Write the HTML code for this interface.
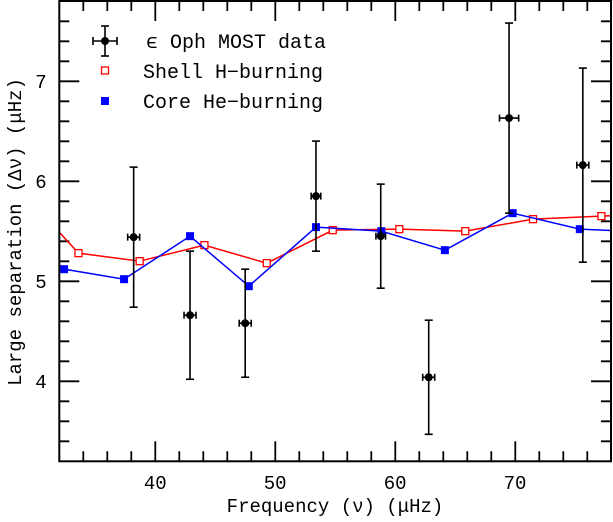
<!DOCTYPE html>
<html><head><meta charset="utf-8"><style>
html,body{margin:0;padding:0;background:#fff;}
svg{display:block;}
text{font-family:"Liberation Mono","DejaVu Sans Mono",monospace;fill:#000;}
</style></head><body>
<svg id="chart" width="613" height="522" viewBox="0 0 613 522" xmlns="http://www.w3.org/2000/svg">
<g fill="#000" stroke="none">
<path d="M82.4 451.3h1.8v10h-1.8zM106.4 451.3h1.8v10h-1.8zM130.4 451.3h1.8v10h-1.8zM178.4 451.3h1.8v10h-1.8zM202.4 451.3h1.8v10h-1.8zM226.4 451.3h1.8v10h-1.8zM250.4 451.3h1.8v10h-1.8zM298.4 451.3h1.8v10h-1.8zM322.4 451.3h1.8v10h-1.8zM346.4 451.3h1.8v10h-1.8zM370.4 451.3h1.8v10h-1.8zM418.4 451.3h1.8v10h-1.8zM442.4 451.3h1.8v10h-1.8zM466.4 451.3h1.8v10h-1.8zM490.4 451.3h1.8v10h-1.8zM538.4 451.3h1.8v10h-1.8zM562.4 451.3h1.8v10h-1.8zM586.4 451.3h1.8v10h-1.8zM154.4 441.3h1.8v20h-1.8zM274.4 441.3h1.8v20h-1.8zM394.4 441.3h1.8v20h-1.8zM514.4 441.3h1.8v20h-1.8z"/>
<path d="M82.4 1h1.8v10h-1.8zM106.4 1h1.8v10h-1.8zM130.4 1h1.8v10h-1.8zM178.4 1h1.8v10h-1.8zM202.4 1h1.8v10h-1.8zM226.4 1h1.8v10h-1.8zM250.4 1h1.8v10h-1.8zM298.4 1h1.8v10h-1.8zM322.4 1h1.8v10h-1.8zM346.4 1h1.8v10h-1.8zM370.4 1h1.8v10h-1.8zM418.4 1h1.8v10h-1.8zM442.4 1h1.8v10h-1.8zM466.4 1h1.8v10h-1.8zM490.4 1h1.8v10h-1.8zM538.4 1h1.8v10h-1.8zM562.4 1h1.8v10h-1.8zM586.4 1h1.8v10h-1.8zM154.4 1h1.8v20h-1.8zM274.4 1h1.8v20h-1.8zM394.4 1h1.8v20h-1.8zM514.4 1h1.8v20h-1.8z"/>
</g>
<g stroke="#000" stroke-width="1.8" fill="none">
<path d="M59.3 441.3h10M59.3 421.3h10M59.3 401.3h10M59.3 361.3h10M59.3 341.3h10M59.3 321.3h10M59.3 301.3h10M59.3 261.3h10M59.3 241.3h10M59.3 221.3h10M59.3 201.3h10M59.3 161.3h10M59.3 141.3h10M59.3 121.3h10M59.3 101.3h10M59.3 61.3h10M59.3 41.3h10M59.3 21.3h10M59.3 381.3h20M59.3 281.3h20M59.3 181.3h20M59.3 81.3h20"/>
<path d="M611 441.3h-10M611 421.3h-10M611 401.3h-10M611 361.3h-10M611 341.3h-10M611 321.3h-10M611 301.3h-10M611 261.3h-10M611 241.3h-10M611 221.3h-10M611 201.3h-10M611 161.3h-10M611 141.3h-10M611 121.3h-10M611 101.3h-10M611 61.3h-10M611 41.3h-10M611 21.3h-10M611 381.3h-20M611 281.3h-20M611 181.3h-20M611 81.3h-20"/>
</g>
</svg>
<script>
const xTicks = [40, 50, 60, 70];
const yTicks = [4, 5, 6, 7];
const obsX = [38.2, 42.9, 47.5, 53.4, 58.8, 62.8, 69.5, 75.65];
const obsY = [5.44, 4.66, 4.58, 5.85, 5.45, 4.04, 6.63, 6.16];
const obsErrY = [0.70, 0.64, 0.54, 0.55, 0.52, 0.57, 0.95, 0.97];
const obsErrX = [0.5, 0.5, 0.5, 0.4, 0.4, 0.5, 0.8, 0.5];
const shellX = [31, 33.6, 38.7, 44.1, 49.3, 54.8, 60.35, 65.85, 71.5, 77.2, 79];
const shellY = [5.62, 5.28, 5.20, 5.36, 5.18, 5.51, 5.52, 5.50, 5.62, 5.65, 5.66];
const coreX = [31, 32.4, 37.4, 42.9, 47.8, 53.4, 58.85, 64.15, 69.8, 75.4, 81];
const coreY = [5.27, 5.12, 5.02, 5.45, 4.95, 5.54, 5.50, 5.31, 5.68, 5.52, 5.49];

const L=59.3,R=611,T=1,B=461.3,xmin=32,xmax=78,ymin=3.2,ymax=7.8;
const sx=v=>L+(v-xmin)/(xmax-xmin)*(R-L);
const sy=v=>B-(v-ymin)/(ymax-ymin)*(B-T);
const NS="http://www.w3.org/2000/svg";
const svg=document.getElementById('chart');
function mk(tag,attrs,parent){const e=document.createElementNS(NS,tag);for(const k in attrs)e.setAttribute(k,attrs[k]);(parent||svg).appendChild(e);return e;}

const defs=mk('defs',{});
const cp=mk('clipPath',{id:'clip'},defs);
mk('rect',{x:L,y:T,width:R-L,height:B-T},cp);

const gS=mk('g',{'clip-path':'url(#clip)'});


mk('polyline',{points:shellX.map((x,i)=>sx(x)+','+sy(shellY[i])).join(' '),fill:'none',stroke:'#f00','stroke-width':1.5},gS);
shellX.forEach((x,i)=>{const r=mk('rect',{x:sx(x)-3.5,y:sy(shellY[i])-3.5,width:7,height:7,fill:'#fff',stroke:'#f00','stroke-width':1.3},gS);

});

const gC=mk('g',{'clip-path':'url(#clip)'});


mk('polyline',{points:coreX.map((x,i)=>sx(x)+','+sy(coreY[i])).join(' '),fill:'none',stroke:'#00f','stroke-width':1.5},gC);
coreX.forEach((x,i)=>{const r=mk('rect',{x:sx(x)-4,y:sy(coreY[i])-4,width:8,height:8,fill:'#00f'},gC);

});

const gO=mk('g',{'clip-path':'url(#clip)',stroke:'#000','stroke-width':1.6});


obsX.forEach((x,i)=>{
 const px=sx(x),py=sy(obsY[i]),t=sy(obsY[i]+obsErrY[i]),b=sy(obsY[i]-obsErrY[i]);
 const l=sx(x-obsErrX[i]),r=sx(x+obsErrX[i]);
 const g=mk('g',{},gO);
 
 
 mk('line',{x1:px,y1:t,x2:px,y2:b},g);
 mk('line',{x1:px-4,y1:t,x2:px+4,y2:t},g);
 mk('line',{x1:px-4,y1:b,x2:px+4,y2:b},g);
 mk('line',{x1:l,y1:py,x2:r,y2:py},g);
 mk('line',{x1:l,y1:py-3.5,x2:l,y2:py+3.5},g);
 mk('line',{x1:r,y1:py-3.5,x2:r,y2:py+3.5},g);
 mk('circle',{cx:px,cy:py,r:4,fill:'#000',stroke:'none'},g);
});

const frame=mk('rect',{x:L,y:T,width:R-L,height:B-T,fill:'none',stroke:'#000','stroke-width':2});


xTicks.forEach(v=>{const t=mk('text',{x:sx(v),y:489,'text-anchor':'middle','font-size':19});t.textContent=v;
 
 });
yTicks.forEach(v=>{const t=mk('text',{x:41,y:sy(v)+7,'text-anchor':'middle','font-size':19});t.textContent=v;
 
 });
</script>
<script>
(function(){
const svg=document.getElementById('chart');const NS="http://www.w3.org/2000/svg";
function mk(tag,attrs,parent){const e=document.createElementNS(NS,tag);for(const k in attrs)e.setAttribute(k,attrs[k]);(parent||svg).appendChild(e);return e;}
const xt=mk('text',{x:335,y:512,'text-anchor':'middle','font-size':19});
xt.textContent='Frequency (ν) (μHz)';


const yt=mk('text',{x:0,y:0,'text-anchor':'middle','font-size':19,transform:'translate(21,232) rotate(-90)'});
yt.textContent='Large separation (Δν) (μHz)';


const lg=mk('g',{});


const e1=mk('g',{stroke:'#000','stroke-width':1.6},lg);


mk('line',{x1:105,y1:26,x2:105,y2:56},e1);mk('line',{x1:101,y1:26,x2:109,y2:26},e1);mk('line',{x1:101,y1:56,x2:109,y2:56},e1);
mk('line',{x1:93,y1:41,x2:117,y2:41},e1);mk('line',{x1:93,y1:37,x2:93,y2:45},e1);mk('line',{x1:117,y1:37,x2:117,y2:45},e1);
mk('circle',{cx:105,cy:41,r:4,fill:'#000',stroke:'none'},e1);
const t1=mk('text',{x:146,y:48,'font-size':20},lg);t1.textContent='ϵ Oph MOST data';


const s2=mk('rect',{x:101.5,y:67,width:7,height:7,fill:'#fff',stroke:'#f00','stroke-width':1.3},lg);


const t2=mk('text',{x:143,y:78,'font-size':20},lg);t2.textContent='Shell H−burning';


const s3=mk('rect',{x:101,y:97,width:8,height:8,fill:'#00f'},lg);


const t3=mk('text',{x:143,y:108,'font-size':20},lg);t3.textContent='Core He−burning';


})();
</script>
</body></html>
